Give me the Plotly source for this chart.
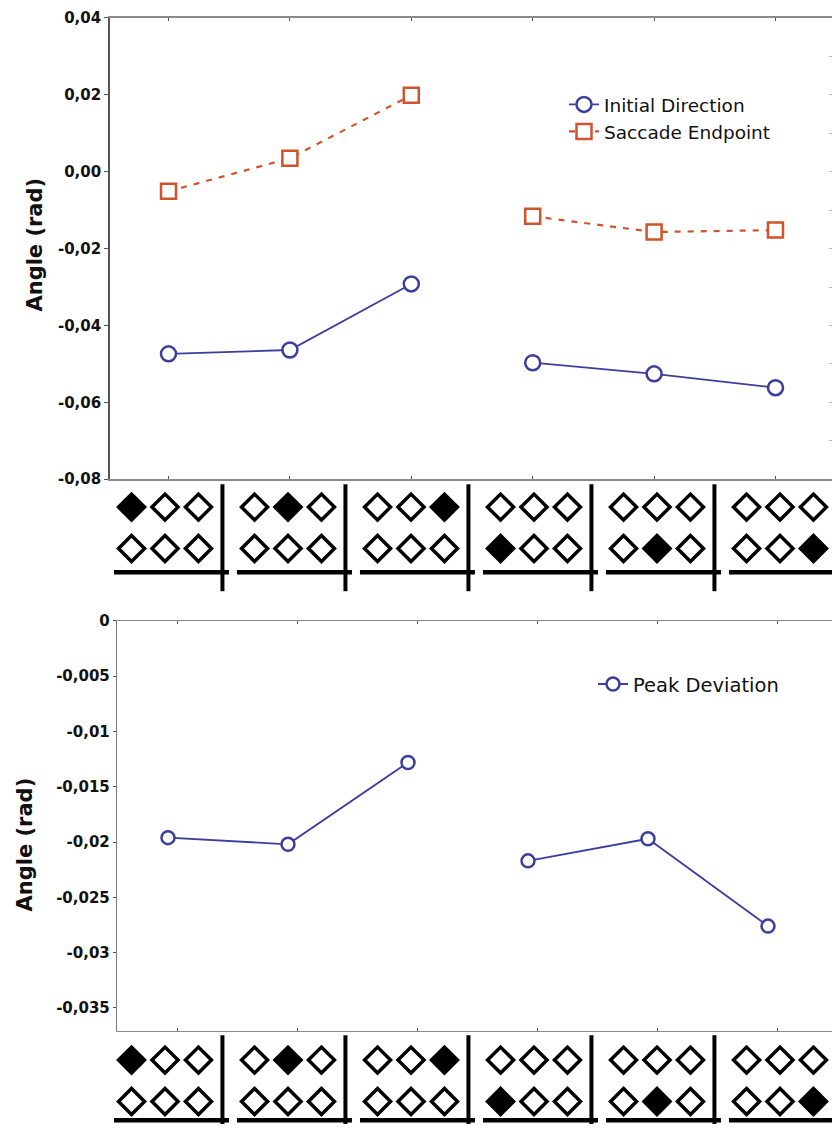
import plotly.graph_objects as go

W, H = 832, 1133

# ---------------- data ----------------
conditions = [0, 1, 2, 3, 4, 5]
# filled diamond of each condition: row (0 = upper row, 1 = lower row) and position (0..2)
filled_row = [0, 0, 0, 1, 1, 1]
filled_pos = [0, 1, 2, 0, 1, 2]
diamond_positions = [0, 1, 2]
diamond_rows = [0, 1]

initial_direction = [-0.0474, -0.0464, -0.0292, -0.0497, -0.0526, -0.0562]
saccade_endpoint = [-0.0051, 0.0035, 0.0199, -0.0116, -0.0157, -0.0152]
peak_deviation = [-0.0196, -0.0202, -0.0128, -0.0217, -0.0197, -0.0276]

top_tickvals = [0.04, 0.02, 0.0, -0.02, -0.04, -0.06, -0.08]
top_ticktext = ["0,04", "0,02", "0,00", "-0,02", "-0,04", "-0,06", "-0,08"]
right_minor = [0.04, 0.03, 0.02, 0.01, 0.0, -0.01, -0.02, -0.03, -0.04, -0.05, -0.06, -0.07, -0.08]
bot_tickvals = [0, -0.005, -0.01, -0.015, -0.02, -0.025, -0.03, -0.035]
bot_ticktext = ["0", "-0,005", "-0,01", "-0,015", "-0,02", "-0,025", "-0,03", "-0,035"]

BLUE = "#3b3e9c"
ORANGE = "#d0532b"

# the page draws the figure from y=8 to y=1125
Y0, HV = 8, 1117


def fy(px):
    return min(1.0, max(0.0, 1 - (px - Y0) / HV))


def fx(px):
    return px / W


def with_gap(v):
    return list(v[:3]) + [None] + list(v[3:])


fig = go.Figure()

# ---------------- top panel ----------------
fig.add_trace(go.Scatter(
    x=with_gap(conditions), y=with_gap(initial_direction), mode="lines+markers",
    name="Initial Direction", xaxis="x", yaxis="y", connectgaps=False,
    line=dict(color=BLUE, width=1.8),
    marker=dict(symbol="circle", size=15, color="white", line=dict(color=BLUE, width=2.5)),
))
fig.add_trace(go.Scatter(
    x=with_gap(conditions), y=with_gap(saccade_endpoint), mode="lines+markers",
    name="Saccade Endpoint", xaxis="x", yaxis="y", connectgaps=False,
    line=dict(color=ORANGE, width=2.2, dash="6px,7px"),
    marker=dict(symbol="square", size=15, color="white", line=dict(color=ORANGE, width=2.5)),
))
# dummy trace for the right-hand minor tick axis
fig.add_trace(go.Scatter(x=[None], y=[None], xaxis="x", yaxis="y5", showlegend=False, hoverinfo="skip"))

# ---------------- bottom panel ----------------
fig.add_trace(go.Scatter(
    x=with_gap(conditions), y=with_gap(peak_deviation), mode="lines+markers",
    name="Peak Deviation", xaxis="x2", yaxis="y2", connectgaps=False, legend="legend2",
    line=dict(color=BLUE, width=1.8),
    marker=dict(symbol="circle", size=13, color="white", line=dict(color=BLUE, width=2.5)),
))

# ---------------- diamond condition grids ----------------
D_OFF = 0.272
for yax in ["y3", "y4"]:
    for filled in (False, True):
        xs, ys = [], []
        for c, fr, fp in zip(conditions, filled_row, filled_pos):
            for r in diamond_rows:
                for p in diamond_positions:
                    is_f = (r == fr and p == fp)
                    if is_f == filled:
                        xs.append(c + (p - 1) * D_OFF)
                        ys.append(r)
        fig.add_trace(go.Scatter(
            x=xs, y=ys, mode="markers", xaxis="x3", yaxis=yax, showlegend=False, hoverinfo="skip",
            marker=dict(symbol="diamond", size=20, color="black" if filled else "white",
                        line=dict(color="black", width=3.5)),
        ))

shapes = []
for yref, ytop, ybot, yh in [("y3", -0.55, 2.03, 1.57), ("y4", -0.6, 1.8, 1.45)]:
    for c in conditions:
        shapes.append(dict(type="line", xref="x3", yref=yref, x0=c + 0.467, x1=c + 0.467,
                           y0=ytop, y1=ybot, line=dict(color="black", width=4)))
        shapes.append(dict(type="line", xref="x3", yref=yref, x0=c - 0.415, x1=c + 0.52,
                           y0=yh, y1=yh, line=dict(color="black", width=4.5)))

# ---------------- axes ----------------
tick_font_top = dict(family="DejaVu Sans", size=15, color="#111", weight="bold")
tick_font_bot = dict(family="DejaVu Sans", size=15, color="#111", weight="bold")

top_px = (17, 479)
bot_px = (621, 1032)
cat0_top, sp_top = 168.5, 121.4
cat0_bot, sp_bot = 168.0, 120.0
ROW = 41.5  # pixel distance between the two diamond rows

fig.update_layout(
    width=W, height=H,
    margin=dict(l=0, r=0, t=0, b=0),
    paper_bgcolor="white", plot_bgcolor="white",
    showlegend=True,
    xaxis=dict(
        domain=[fx(110), 1], anchor="y",
        range=[(110 - cat0_top) / sp_top, (W - cat0_top) / sp_top],
        tickvals=conditions, showticklabels=False, ticks="inside", ticklen=3,
        tickcolor="#555", showline=True, linecolor="#8a8a8a", linewidth=1.6, mirror="ticks",
        showgrid=False, zeroline=False,
    ),
    yaxis=dict(
        domain=[fy(top_px[1]), fy(top_px[0])], anchor="x",
        range=[-0.08, 0.04], tickvals=top_tickvals, ticktext=top_ticktext,
        tickfont=tick_font_top, ticks="outside", ticklen=4, tickcolor="#555",
        showline=True, linecolor="#555", linewidth=1.6, showgrid=False, zeroline=False,
    ),
    yaxis5=dict(
        overlaying="y", side="right", anchor="x", range=[-0.08, 0.04],
        tickvals=right_minor, showticklabels=False, ticks="inside", ticklen=3,
        tickcolor="#b5b5b5", showline=False, showgrid=False, zeroline=False,
    ),
    xaxis2=dict(
        domain=[fx(117), 1], anchor="y2",
        range=[(117 - cat0_bot) / sp_bot, (W - cat0_bot) / sp_bot],
        tickvals=[c + 0.075 for c in conditions], showticklabels=False, ticks="inside", ticklen=3,
        tickcolor="#555", showline=True, linecolor="#8a8a8a", linewidth=1.4, mirror="ticks",
        showgrid=False, zeroline=False,
    ),
    yaxis2=dict(
        domain=[fy(bot_px[1]), fy(bot_px[0])], anchor="x2",
        range=[-0.0371, 0.0], tickvals=bot_tickvals, ticktext=bot_ticktext,
        tickfont=tick_font_bot, ticks="outside", ticklen=3, tickcolor="#555",
        showline=True, linecolor="#777", linewidth=1.4, showgrid=False, zeroline=False,
    ),
    xaxis3=dict(
        domain=[0, 1], anchor="y3", range=[-165 / 123, (W - 165) / 123],
        visible=False, showgrid=False, zeroline=False,
    ),
    yaxis3=dict(
        domain=[fy(596), fy(480)], anchor="x3", range=[(596 - 507) / ROW, (480 - 507) / ROW],
        visible=False, showgrid=False, zeroline=False,
    ),
    yaxis4=dict(
        domain=[0, fy(1035)], anchor="x3", range=[(Y0 + HV - 1061) / ROW, (1035 - 1061) / ROW],
        visible=False, showgrid=False, zeroline=False,
    ),
    legend=dict(
        x=fx(564), y=fy(85), xanchor="left", yanchor="top",
        bgcolor="rgba(255,255,255,0)", borderwidth=0,
        font=dict(family="DejaVu Sans", size=18.5, color="#111"),
        tracegroupgap=0,
    ),
    legend2=dict(
        x=fx(593), y=fy(665), xanchor="left", yanchor="top",
        bgcolor="rgba(255,255,255,0)", borderwidth=0,
        font=dict(family="DejaVu Sans", size=19.5, color="#111"),
    ),
    shapes=shapes,
    annotations=[
        dict(text="Angle (rad)", x=fx(35), y=fy(244), xref="paper", yref="paper",
             showarrow=False, textangle=-90, xanchor="center", yanchor="middle",
             font=dict(family="DejaVu Sans", size=21, color="#111", weight="bold")),
        dict(text="Angle (rad)", x=fx(25), y=fy(845), xref="paper", yref="paper",
             showarrow=False, textangle=-90, xanchor="center", yanchor="middle",
             font=dict(family="DejaVu Sans", size=21, color="#111", weight="bold")),
    ],
)

fig.write_html("out.html")
